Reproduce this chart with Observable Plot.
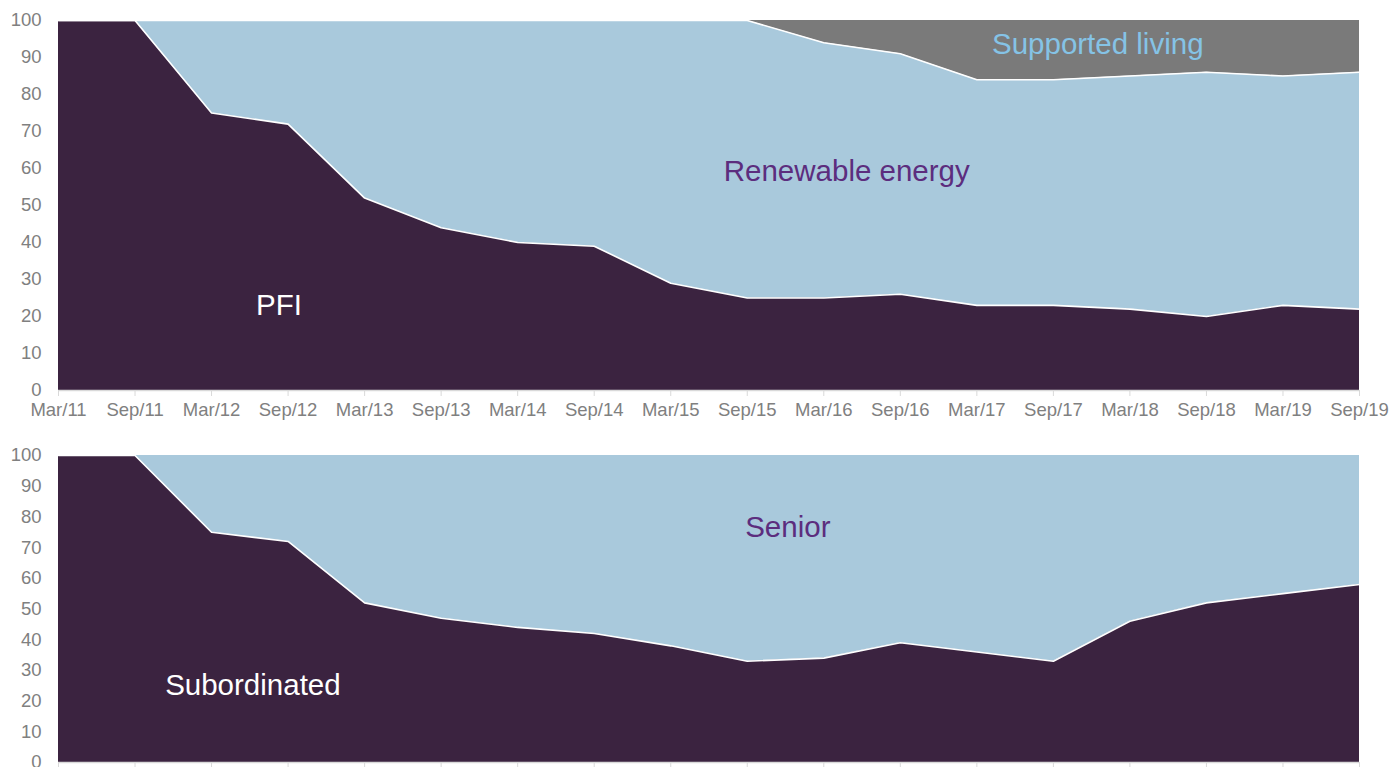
<!DOCTYPE html>
<html>
<head>
<meta charset="utf-8">
<script src="https://cdn.jsdelivr.net/npm/d3@7"></script>
<script src="https://cdn.jsdelivr.net/npm/@observablehq/plot@0.6"></script>
<style>
  html, body { margin: 0; padding: 0; background: #fff; overflow: hidden; }
  #c svg { display: block; }
</style>
</head>
<body>
<div id="c"></div>
<script>
const periods = ["Mar/11","Sep/11","Mar/12","Sep/12","Mar/13","Sep/13","Mar/14","Sep/14","Mar/15","Sep/15","Mar/16","Sep/16","Mar/17","Sep/17","Mar/18","Sep/18","Mar/19","Sep/19"];

// Top chart: sector mix (%)
const pfi        = [100,100,75,72,52,44,40,39,29,25,25,26,23,23,22,20,23,22];
const renewable  = [0,0,25,28,48,56,60,61,71,75,69,65,61,61,63,66,62,64];
const supported  = [0,0,0,0,0,0,0,0,0,0,6,9,16,16,15,14,15,14];

// Bottom chart: seniority mix (%)
const subordinated = [100,100,75,72,52,47,44,42,38,33,34,39,36,33,46,52,55,58];
const senior       = [0,0,25,28,48,53,56,58,62,67,66,61,64,67,54,48,45,42];

const yTicks = [0,10,20,30,40,50,60,70,80,90,100];

function long(seriesList) {
  const rows = [];
  seriesList.forEach(([name, vals]) => vals.forEach((v, i) => rows.push({i, series: name, value: v})));
  return rows;
}

const topData = long([["PFI", pfi], ["Renewable energy", renewable], ["Supported living", supported]]);
const botData = long([["Subordinated", subordinated], ["Senior", senior]]);

const colors = {
  "PFI": "#3b2340", "Renewable energy": "#a9c9dc", "Supported living": "#7a7a7a",
  "Subordinated": "#3b2340", "Senior": "#a9c9dc"
};

function makeChart(data, order, height, plotH, labels, showXLabels) {
  const marginTop = 20;
  const marginBottom = height - marginTop - plotH;
  return Plot.plot({
    width: 1391,
    height,
    marginLeft: 58,
    marginRight: 32,
    marginTop,
    marginBottom,
    style: {fontFamily: "Liberation Sans, Arial, sans-serif", background: "#fff", overflow: "visible"},
    x: {type: "linear", domain: [0, periods.length - 1], label: null},
    y: {domain: [0, 100], label: null},
    color: {domain: Object.keys(colors), range: Object.values(colors)},
    marks: [
      Plot.areaY(data, {x: "i", y: "value", fill: "series", order, curve: "linear"}),
      Plot.lineY(data, Plot.stackY2({x: "i", y: "value", z: "series", order, filter: d => d.series !== order[order.length - 1], stroke: "#ffffff", strokeWidth: 1.6})),
      Plot.ruleY([0], {stroke: "#d9d9d9", strokeWidth: 1.5}),
      Plot.axisX({ticks: d3.range(periods.length), tickFormat: showXLabels ? (i => periods[i]) : (() => ""), tickSize: 6, tickPadding: 6, stroke: "#d9d9d9", fill: "#808080", fontSize: 18.5, label: null}),
      Plot.axisY({ticks: yTicks, tickSize: 0, tickPadding: 17, fill: "#808080", fontSize: 18.5, label: null}),
      ...labels.map(l => Plot.text([l.text], {x: () => l.x, y: () => l.y, text: d => d, fill: l.color, fontSize: 29.5, textAnchor: "middle", fontFamily: "Liberation Sans, Arial, sans-serif"}))
    ]
  });
}

const topChart = makeChart(topData, ["PFI", "Renewable energy", "Supported living"], 435, 370, [
  {text: "PFI", x: 2.88, y: 23, color: "#ffffff"},
  {text: "Renewable energy", x: 10.3, y: 59.2, color: "#5c2d7e"},
  {text: "Supported living", x: 13.58, y: 93.6, color: "#85c3e6"}
], true);
const bottomChart = makeChart(botData, ["Subordinated", "Senior"], 367, 307, [
  {text: "Senior", x: 9.53, y: 76.5, color: "#5c2d7e"},
  {text: "Subordinated", x: 2.54, y: 25, color: "#ffffff"}
], false);

const c = document.getElementById("c");
c.appendChild(topChart);
c.appendChild(bottomChart);
</script>
</body>
</html>
